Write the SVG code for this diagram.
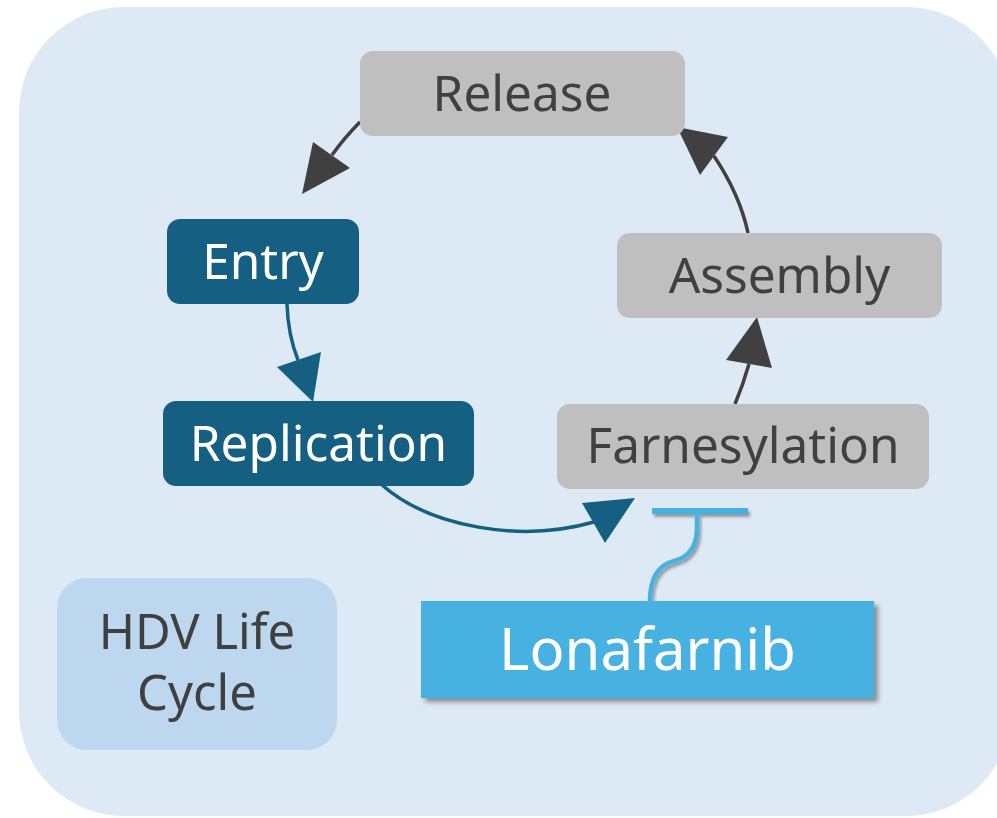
<svg xmlns="http://www.w3.org/2000/svg" width="997" height="818" viewBox="0 0 997 818">
  <defs>
    <filter id="shadow" x="-10%" y="-10%" width="125%" height="130%">
      <feDropShadow dx="4" dy="4" stdDeviation="2.5" flood-color="#000" flood-opacity="0.4"/>
    </filter>
    <filter id="lineShadow" x="-20%" y="-20%" width="150%" height="150%">
      <feDropShadow dx="2" dy="3" stdDeviation="1.5" flood-color="#000" flood-opacity="0.35"/>
    </filter>
  </defs>
  <style>
    text { font-family: "Noto Sans", "Open Sans", "Liberation Sans", sans-serif; text-anchor: middle; }
    .grey rect { fill: #BFBFBF; }
    .grey text { fill: #404040; font-size: 49.5px; }
    .dark rect { fill: #156082; }
    .dark text { fill: #FFFFFF; font-size: 49.5px; }
    .darkLine { fill: none; stroke: #404040; stroke-width: 3.5; }
    .darkHead { fill: #404040; }
    .blueLine { fill: none; stroke: #156082; stroke-width: 3.5; }
    .blueHead { fill: #156082; }
    .inhibit { fill: none; stroke: #46B1E1; }
  </style>

  <rect id="background" x="19" y="7" width="992" height="809" rx="105" ry="105" fill="#DDEAF6"/>

  <g id="connectors">
    <!-- Release -> Entry -->
    <path class="darkLine" d="M360,122 Q345,137 332,155"/>
    <polygon class="darkHead" points="302,194 313,142 350,168"/>
    <!-- Entry -> Replication -->
    <path class="blueLine" d="M287,304 Q288,335 298,360"/>
    <polygon class="blueHead" points="313,402 277,367 321,352"/>
    <!-- Replication -> Farnesylation -->
    <path class="blueLine" d="M382,485 C430,527 520,543 594,522"/>
    <polygon class="blueHead" points="635,498 582,503 605,543"/>
    <!-- Farnesylation -> Assembly -->
    <path class="darkLine" d="M735,404 Q743,385 749,364"/>
    <polygon class="darkHead" points="757,317 726,360 772,368"/>
    <!-- Assembly -> Release -->
    <path class="darkLine" d="M748,233 Q740,195 714,156"/>
    <polygon class="darkHead" points="677,127 700,175 728,137"/>
    <!-- Lonafarnib inhibits Farnesylation -->
    <g filter="url(#lineShadow)">
      <path class="inhibit" stroke-width="4.5" d="M697,512 L697,528 C697,550 686,558 674,561 C659,565 650,578 650,601"/>
      <line class="inhibit" stroke-width="6" x1="652" y1="511" x2="748" y2="511"/>
    </g>
  </g>

  <g id="release" class="grey">
    <rect x="360" y="51" width="325" height="85" rx="13"/>
    <text x="522" y="111">Release</text>
  </g>

  <g id="entry" class="dark">
    <rect x="167" y="219" width="192" height="85" rx="13"/>
    <text x="263" y="279">Entry</text>
  </g>

  <g id="replication" class="dark">
    <rect x="163" y="401" width="311" height="85" rx="13"/>
    <text x="318.5" y="461">Replication</text>
  </g>

  <g id="assembly" class="grey">
    <rect x="617" y="233" width="325" height="85" rx="13"/>
    <text x="779.5" y="293">Assembly</text>
  </g>

  <g id="farnesylation" class="grey">
    <rect x="557" y="404" width="372" height="85" rx="13"/>
    <text x="743" y="463">Farnesylation</text>
  </g>

  <g id="lonafarnib">
    <rect x="421" y="601" width="453" height="97" fill="#46B1E1" filter="url(#shadow)"/>
    <text x="647.5" y="670" fill="#FFFFFF" font-size="58">Lonafarnib</text>
  </g>

  <g id="hdv-life-cycle">
    <rect x="57" y="578" width="280" height="172" rx="30" fill="#BDD7EE"/>
    <text x="197" y="649" fill="#404040" font-size="49">HDV Life</text>
    <text x="197" y="710" fill="#404040" font-size="49">Cycle</text>
  </g>
</svg>
